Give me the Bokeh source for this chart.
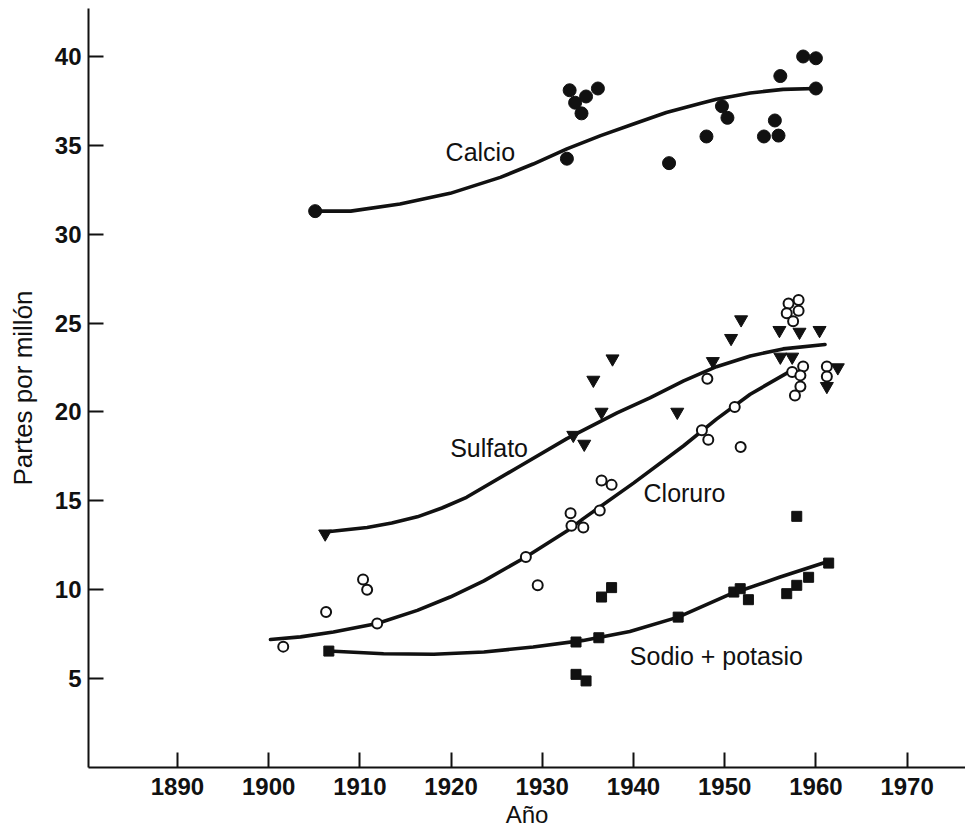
from bokeh.plotting import figure
from bokeh.models import FixedTicker, Range1d, ColumnDataSource
from bokeh.core.properties import value
from bokeh.embed import file_html
from bokeh.resources import INLINE

FONT = "Liberation Sans"

# ---- data ----
x_ticks = [1890, 1900, 1910, 1920, 1930, 1940, 1950, 1960, 1970]
y_ticks = [5, 10, 15, 20, 25, 30, 35, 40]

calcio_year = [1905.1, 1933.0, 1936.1, 1934.8, 1933.6, 1934.3, 1932.7, 1943.9, 1948.0,
               1950.3, 1949.7, 1955.5, 1954.3, 1955.9, 1956.1, 1958.6, 1960.0, 1960.0]
calcio_ppm = [31.3, 38.1, 38.2, 37.75, 37.4, 36.8, 34.25, 34.0, 35.5,
              36.55, 37.2, 36.4, 35.5, 35.55, 38.9, 40.0, 39.9, 38.2]

sulfato_year = [1906.2, 1937.7, 1935.6, 1936.5, 1933.4, 1934.6, 1951.8, 1950.7, 1948.7,
                1944.8, 1956.0, 1958.2, 1960.4, 1956.1, 1957.4, 1962.4, 1961.2]
sulfato_ppm = [13.15, 23.0, 21.8, 20.0, 18.7, 18.2, 25.2, 24.15, 22.85,
               20.0, 24.6, 24.5, 24.6, 23.1, 23.1, 22.5, 21.45]

cloruro_year = [1901.6, 1906.3, 1910.35, 1910.8, 1911.9, 1928.2, 1929.5, 1933.1, 1933.2,
                1934.5, 1936.3, 1936.5, 1937.6, 1948.1, 1947.5, 1948.2, 1951.1, 1951.75,
                1957.0, 1958.1, 1956.8, 1958.1, 1957.5, 1957.4, 1958.6, 1958.3, 1958.3,
                1957.7, 1961.2, 1961.2]
cloruro_ppm = [6.8, 8.75, 10.57, 10.0, 8.1, 11.84, 10.25, 14.3, 13.6,
               13.5, 14.46, 16.15, 15.9, 21.87, 18.97, 18.44, 20.28, 18.03,
               26.1, 26.3, 25.56, 25.7, 25.1, 22.25, 22.56, 22.06, 21.44,
               20.93, 22.56, 22.0]

sodio_year = [1906.6, 1933.7, 1936.2, 1933.7, 1934.8, 1936.5, 1937.6, 1957.9, 1944.9,
              1951.0, 1951.7, 1952.6, 1956.8, 1957.9, 1959.2, 1961.4]
sodio_ppm = [6.55, 7.06, 7.3, 5.24, 4.87, 9.59, 10.12, 14.13, 8.46,
             9.87, 10.06, 9.44, 9.78, 10.25, 10.7, 11.5]

# fitted curves
calcio_fit_year = [1905.1, 1909.0, 1914.4, 1919.9, 1925.4, 1929.0, 1932.7, 1936.4, 1940.0,
                   1943.6, 1947.3, 1949.1, 1952.8, 1956.4, 1960.0]
calcio_fit_ppm = [31.3, 31.3, 31.7, 32.3, 33.2, 33.95, 34.8, 35.55, 36.2,
                  36.85, 37.35, 37.6, 37.95, 38.15, 38.2]

sulfato_fit_year = [1906.2, 1910.8, 1913.5, 1916.3, 1919.0, 1921.7, 1927.2, 1932.7, 1938.2,
                    1941.8, 1945.5, 1949.1, 1952.8, 1956.4, 1961.0]
sulfato_fit_ppm = [13.25, 13.5, 13.75, 14.1, 14.6, 15.2, 16.85, 18.5, 19.95,
                   20.8, 21.75, 22.55, 23.15, 23.55, 23.8]

cloruro_fit_year = [1900.2, 1903.5, 1907.1, 1911.9, 1916.3, 1919.9, 1923.6, 1928.2, 1932.7,
                    1934.5, 1940.0, 1945.5, 1949.1, 1952.8, 1957.2]
cloruro_fit_ppm = [7.2, 7.35, 7.62, 8.1, 8.84, 9.59, 10.5, 11.84, 13.3,
                   14.0, 16.0, 18.1, 19.6, 21.0, 22.3]

sodio_fit_year = [1906.6, 1912.6, 1918.1, 1923.6, 1929.0, 1934.5, 1939.6, 1944.9, 1950.6,
                  1956.0, 1961.4]
sodio_fit_ppm = [6.55, 6.4, 6.37, 6.5, 6.78, 7.15, 7.65, 8.46, 9.75,
                 10.7, 11.6]

label_text = ["Calcio", "Sulfato", "Cloruro", "Sodio + potasio"]
label_year = [1919.4, 1919.9, 1941.1, 1939.6]
label_ppm = [34.6, 17.95, 15.42, 6.3]

x_title = "Año"
y_title = "Partes por millón"

# ---- figure ----
p = figure(width=965, height=830, output_backend="svg", toolbar_location=None,
           x_range=Range1d(1880.25, 1976.4), y_range=Range1d(0, 42.7),
           min_border_left=88, min_border_right=0, min_border_top=8, min_border_bottom=63)
p.outline_line_color = None
p.background_fill_color = "white"
p.border_fill_color = "white"
p.grid.visible = False

for ax in (p.xaxis[0], p.yaxis[0]):
    ax.axis_line_width = 2
    ax.axis_line_color = "#111111"
    ax.major_tick_line_width = 2
    ax.major_tick_line_color = "#111111"
    ax.major_tick_in = 15
    ax.major_tick_out = 0
    ax.minor_tick_line_color = None
    ax.major_label_text_font = FONT
    ax.major_label_text_font_size = "24px"
    ax.major_label_text_font_style = "bold"
    ax.major_label_text_color = "#111111"
    ax.axis_label_text_font = FONT
    ax.axis_label_text_font_style = "normal"
    ax.axis_label_text_color = "#111111"

p.xaxis.ticker = FixedTicker(ticks=x_ticks)
p.yaxis.ticker = FixedTicker(ticks=y_ticks)
p.xaxis.axis_label = x_title
p.yaxis.axis_label = y_title
p.xaxis.axis_label_text_font_size = "24px"
p.yaxis.axis_label_text_font_size = "26px"
p.xaxis.major_label_standoff = 10
p.xaxis.axis_label_standoff = 3
p.yaxis.major_label_standoff = 7
p.yaxis.axis_label_standoff = 14

lw = 3.6
for xs, ys in [(calcio_fit_year, calcio_fit_ppm), (sulfato_fit_year, sulfato_fit_ppm),
               (cloruro_fit_year, cloruro_fit_ppm), (sodio_fit_year, sodio_fit_ppm)]:
    p.line(xs, ys, line_width=lw, line_color="#111111", line_join="round", line_cap="round")

p.scatter(calcio_year, calcio_ppm, marker="circle", size=13,
          fill_color="#111111", line_color="#111111")
p.scatter(sulfato_year, sulfato_ppm, marker="inverted_triangle", size=13,
          fill_color="#111111", line_color="#111111")
p.scatter(cloruro_year, cloruro_ppm, marker="circle", size=10,
          fill_color="white", line_color="#111111", line_width=2)
p.scatter(sodio_year, sodio_ppm, marker="square", size=10,
          fill_color="#111111", line_color="#111111")

src = ColumnDataSource(dict(x=label_year, y=label_ppm, t=label_text))
p.text(x="x", y="y", text="t", source=src, text_font=value(FONT),
       text_font_size="25px", text_color="#111111", text_align="left",
       text_baseline="middle")

open("out.html", "w").write(file_html(p, INLINE))
